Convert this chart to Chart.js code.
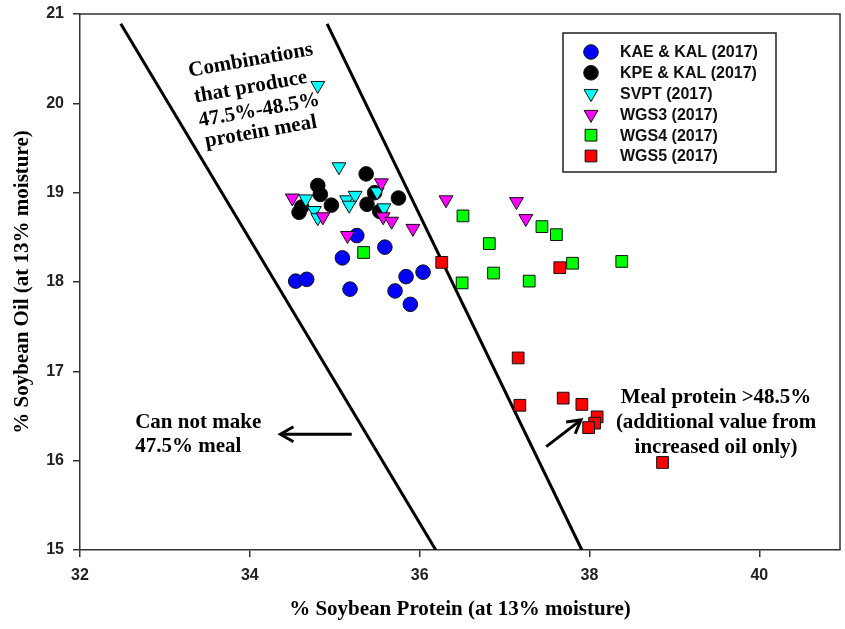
<!DOCTYPE html>
<html>
<head>
<meta charset="utf-8">
<script src="https://cdn.jsdelivr.net/npm/chart.js@4/dist/chart.umd.min.js"></script>
<style>
html,body{margin:0;padding:0;background:#fff;}
#wrap{width:845px;height:629px;position:relative;}
canvas{display:block;}
</style>
</head>
<body>
<div id="wrap"><canvas id="c" width="845" height="629"></canvas></div>
<script>
// ---------- data ----------
const seriesNames = ["KAE & KAL (2017)", "KPE & KAL (2017)", "SVPT (2017)", "WGS3 (2017)", "WGS4 (2017)", "WGS5 (2017)"];

const kaeProtein = [35.26, 35.59, 35.09, 34.54, 34.67, 35.18, 35.84, 36.04, 35.71, 35.89];
const kaeOil     = [18.52, 18.39, 18.27, 18.01, 18.03, 17.92, 18.06, 18.11, 17.90, 17.75];

const kpeProtein = [35.37, 34.80, 34.83, 35.75, 34.96, 35.38, 34.61, 34.58, 35.53, 35.47];
const kpeOil     = [19.21, 19.08, 18.98, 18.94, 18.86, 18.87, 18.84, 18.78, 18.79, 19.00];

const svptProtein = [34.80, 35.05, 35.50, 34.66, 35.14, 35.24, 35.17, 34.76, 35.58, 34.80];
const svptOil     = [20.20, 19.29, 19.01, 18.93, 18.92, 18.97, 18.86, 18.80, 18.83, 18.72];

const wgs3Protein = [35.55, 34.50, 34.86, 35.57, 35.67, 35.92, 35.15, 36.31, 37.14, 37.25];
const wgs3Oil     = [19.11, 18.94, 18.73, 18.73, 18.68, 18.60, 18.52, 18.92, 18.90, 18.71];

const wgs4Protein = [35.34, 36.51, 36.82, 37.44, 37.61, 36.87, 36.50, 37.29, 37.80, 38.38];
const wgs4Oil     = [18.33, 18.74, 18.43, 18.62, 18.53, 18.10, 17.99, 18.01, 18.21, 18.23];

const wgs5Protein = [36.26, 37.65, 37.16, 37.18, 37.69, 37.91, 38.09, 38.06, 37.99, 38.86];
const wgs5Oil     = [18.22, 18.16, 17.15, 16.62, 16.70, 16.63, 16.49, 16.42, 16.37, 15.98];

// boundary lines (47.5% and 48.5% meal protein)
const line475Protein = [32.48, 36.19];
const line475Oil     = [20.89, 15.00];
const line485Protein = [34.91, 37.91];
const line485Oil     = [20.89, 15.00];

const xTickValues = [32, 34, 36, 38, 40];
const yTickValues = [15, 16, 17, 18, 19, 20, 21];

const xTitle = "% Soybean Protein (at 13% moisture)";
const yTitle = "% Soybean Oil (at 13% moisture)";

// annotations (anchors in data units)
const noteCombo = ["Combinations", "that produce", "47.5%-48.5%", "protein meal"];
const noteComboAnchors = [[34.01, 20.48], [34.01, 20.18], [34.11, 19.92], [34.13, 19.68]];
const noteLeft = ["Can not make", "47.5% meal"];
const noteLeftAnchors = [[32.65, 16.37], [32.65, 16.10]];
const noteRight = ["Meal protein >48.5%", "(additional value from", "increased oil only)"];
const noteRightAnchors = [[39.49, 16.65], [39.49, 16.37], [39.49, 16.09]];
const arrowLeft = [[35.20, 16.296], [34.36, 16.296]];   // tail, tip
const arrowRight = [[37.49, 16.157], [37.90, 16.456]];  // tail, tip

// ---------- build ----------
function pts(xs, ys) { return xs.map((v, i) => ({x: v, y: ys[i]})); }

const styles = [
  {bg: '#0000FF', style: 'circle', radius: 7.3, rot: 0},
  {bg: '#000000', style: 'circle', radius: 7.3, rot: 0},
  {bg: '#00FFFF', style: 'triangle', radius: 8, rot: 180},
  {bg: '#FF00FF', style: 'triangle', radius: 8, rot: 180},
  {bg: '#00FF00', style: 'rect', radius: 8.3, rot: 0},
  {bg: '#FF0000', style: 'rect', radius: 8.3, rot: 0}
];
const seriesData = [
  pts(kaeProtein, kaeOil), pts(kpeProtein, kpeOil), pts(svptProtein, svptOil),
  pts(wgs3Protein, wgs3Oil), pts(wgs4Protein, wgs4Oil), pts(wgs5Protein, wgs5Oil)
];

const datasets = seriesData.map((d, i) => ({
  type: 'scatter',
  label: seriesNames[i],
  data: d,
  backgroundColor: styles[i].bg,
  borderColor: '#111',
  borderWidth: 1,
  pointStyle: styles[i].style,
  pointRadius: styles[i].radius,
  pointRotation: styles[i].rot,
  order: 6 - i,
  isSeries: true
}));
datasets.push({
  type: 'line', label: '47.5%', data: pts(line475Protein, line475Oil),
  borderColor: '#000', borderWidth: 3, pointRadius: 0, showLine: true, fill: false, order: 20
});
datasets.push({
  type: 'line', label: '48.5%', data: pts(line485Protein, line485Oil),
  borderColor: '#000', borderWidth: 3, pointRadius: 0, showLine: true, fill: false, order: 20
});

const SERIF = "'Liberation Serif', 'Times New Roman', Times, serif";
const SANS = "'Liberation Sans', Arial, Helvetica, sans-serif";

function drawMarker(ctx, st, x, y) {
  ctx.fillStyle = st.bg; ctx.strokeStyle = '#111'; ctx.lineWidth = 1;
  if (Chart.helpers && Chart.helpers.drawPoint) {
    Chart.helpers.drawPoint(ctx, {pointStyle: st.style, rotation: st.rot, radius: st.radius, borderWidth: 1}, x, y);
    return;
  }
  ctx.beginPath();
  if (st.style === 'circle') ctx.arc(x, y, st.radius, 0, Math.PI * 2);
  else if (st.style === 'rect') { const s = st.radius * Math.SQRT1_2; ctx.rect(x - s, y - s, 2 * s, 2 * s); }
  else { const r = st.radius; ctx.moveTo(x, y + r); ctx.lineTo(x - r * 0.866, y - r / 2); ctx.lineTo(x + r * 0.866, y - r / 2); ctx.closePath(); }
  ctx.fill(); ctx.stroke();
}

function drawArrow(ctx, x1, y1, x2, y2) {
  const ang = Math.atan2(y2 - y1, x2 - x1);
  ctx.strokeStyle = '#000'; ctx.lineWidth = 3; ctx.lineCap = 'butt'; ctx.lineJoin = 'miter';
  ctx.beginPath(); ctx.moveTo(x1, y1); ctx.lineTo(x2 - 2 * Math.cos(ang), y2 - 2 * Math.sin(ang)); ctx.stroke();
  const L = 15, s = 0.52;
  ctx.beginPath();
  ctx.moveTo(x2 - L * Math.cos(ang - s), y2 - L * Math.sin(ang - s));
  ctx.lineTo(x2, y2);
  ctx.lineTo(x2 - L * Math.cos(ang + s), y2 - L * Math.sin(ang + s));
  ctx.stroke();
}

const decor = {
  id: 'decor',
  afterDatasetsDraw(chart) {
    const {ctx, chartArea: a, scales} = chart;
    const sx = scales.x, sy = scales.y;
    const P = (p) => [sx.getPixelForValue(p[0]), sy.getPixelForValue(p[1])];
    ctx.save();
    // frame top & right
    ctx.strokeStyle = '#333'; ctx.lineWidth = 1.5;
    ctx.beginPath(); ctx.moveTo(a.left, a.top); ctx.lineTo(a.right, a.top); ctx.lineTo(a.right, a.bottom); ctx.stroke();

    // arrows
    let t = P(arrowLeft[0]), h = P(arrowLeft[1]);
    drawArrow(ctx, t[0], t[1], h[0], h[1]);
    t = P(arrowRight[0]); h = P(arrowRight[1]);
    drawArrow(ctx, t[0], t[1], h[0], h[1]);

    // text notes
    ctx.fillStyle = '#000';
    ctx.font = "bold 21px " + SERIF;
    ctx.textBaseline = 'alphabetic';
    ctx.textAlign = 'left';
    noteLeft.forEach((s, i) => { const p = P(noteLeftAnchors[i]); ctx.fillText(s, p[0], p[1]); });
    ctx.textAlign = 'center';
    noteRight.forEach((s, i) => { const p = P(noteRightAnchors[i]); ctx.fillText(s, p[0], p[1]); });
    ctx.textBaseline = 'middle';
    noteCombo.forEach((s, i) => {
      const p = P(noteComboAnchors[i]);
      ctx.save(); ctx.translate(p[0], p[1]); ctx.rotate(-10 * Math.PI / 180);
      ctx.fillText(s, 0, 0); ctx.restore();
    });

    // legend
    const lx = 563, ly = 33, lw = 213, lh = 139;
    ctx.fillStyle = '#fff'; ctx.fillRect(lx, ly, lw, lh);
    ctx.strokeStyle = '#222'; ctx.lineWidth = 1.5; ctx.strokeRect(lx, ly, lw, lh);
    ctx.font = "bold 16px " + SANS; ctx.textAlign = 'left'; ctx.textBaseline = 'middle';
    chart.data.datasets.filter(d => d.isSeries).forEach((d, i) => {
      const yy = 52 + i * 20.8;
      drawMarker(ctx, styles[i], 591, yy);
      ctx.fillStyle = '#111';
      ctx.fillText(d.label, 620, yy + 1);
    });
    ctx.restore();
  }
};

const tickFont = {family: SANS, weight: 'bold', size: 16};
const titleFont = {family: SERIF, weight: 'bold', size: 21, lineHeight: 1.2};

new Chart(document.getElementById('c'), {
  type: 'scatter',
  data: {datasets},
  options: {
    responsive: false,
    animation: false,
    devicePixelRatio: 1,
    events: [],
    layout: {autoPadding: false, padding: {top: 14, right: 5, left: 0, bottom: 0}},
    plugins: {legend: {display: false}, tooltip: {enabled: false}},
    scales: {
      x: {
        type: 'linear', min: 32, max: 40.95,
        afterBuildTicks: (s) => { s.ticks = xTickValues.map(v => ({value: v})); },
        afterFit: (s) => { s.height = 79; s.paddingLeft = 0; s.paddingRight = 0; },
        ticks: {font: tickFont, color: '#222', padding: 9, maxRotation: 0},
        grid: {display: true, drawOnChartArea: false, drawTicks: true, tickLength: 7, color: '#333', lineWidth: 1.5},
        border: {display: true, color: '#333', width: 1.5},
        title: {display: true, text: xTitle, font: titleFont, color: '#000', padding: {top: 0, bottom: 7}}
      },
      y: {
        type: 'linear', min: 15, max: 21,
        afterBuildTicks: (s) => { s.ticks = yTickValues.map(v => ({value: v})); },
        afterFit: (s) => { s.width = 80; s.paddingTop = 0; s.paddingBottom = 0; },
        ticks: {font: tickFont, color: '#222', padding: 9},
        grid: {display: true, drawOnChartArea: false, drawTicks: true, tickLength: 7, color: '#333', lineWidth: 1.5},
        border: {display: true, color: '#333', width: 1.5},
        title: {display: true, text: yTitle, font: titleFont, color: '#000', padding: {top: 10, bottom: 0}}
      }
    }
  },
  plugins: [decor]
});
</script>
</body>
</html>
